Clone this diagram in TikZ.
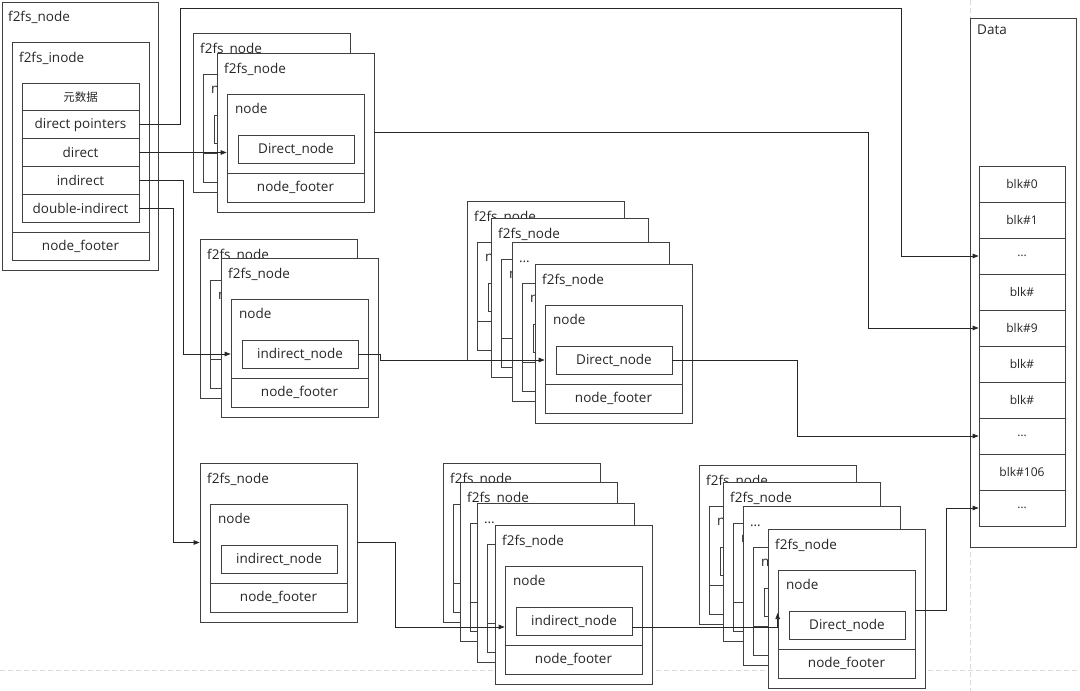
\documentclass[tikz,border=0pt]{standalone}
\usepackage{fontspec}
\setmainfont{Open Sans}
\newfontfamily\cjk{Noto Sans CJK SC}
\usepackage{tikz}
\usetikzlibrary{arrows.meta}

% one f2fs_node card: name, x, y (top left), title, pointer text
\newcommand{\fcard}[5]{%
  \begin{scope}[shift={(#2,#3)}]
    \node[cardbox] (#1) at (78.5,79.5) {};
    \node[lbl, anchor=base west] at (7,20) {#4};
    \node[nodebox] (#1-n) at (78.5,95) {};
    \draw[box] (10,120) -- (147,120);
    \node[lbl, anchor=base west] at (18,60) {node};
    \node[ptrbox] (#1-p) at (79,96) {#5};
    \node[lbl] at (78.5,134.5) {node\_footer};
  \end{scope}%
}

\begin{document}
\begin{tikzpicture}[x=1pt, y=-1pt,
  box/.style={draw=black!75, line width=0.7pt},
  lbl/.style={inner sep=0pt, text=black!85, font=\fontsize{13.5}{16}\selectfont},
  cardbox/.style={box, fill=white, minimum width=157pt, minimum height=159pt, inner sep=0pt},
  nodebox/.style={box, minimum width=137pt, minimum height=108pt, inner sep=0pt},
  ptrbox/.style={box, lbl, minimum width=116pt, minimum height=28pt},
  row/.style={box, lbl, minimum width=117pt, minimum height=27.8pt},
  blk/.style={box, inner sep=0pt, text=black!85, font=\fontsize{12}{14}\selectfont,
    minimum width=86pt, minimum height=36pt},
  link/.style={draw=black!85, line width=0.7pt, -{Triangle[length=6pt,width=4.5pt]}},
  guide/.style={draw=gray!30, line width=0.5pt, dash pattern=on 5pt off 3pt}]
\useasboundingbox (0,0) rectangle (1080,691);

% page guides
\draw[guide] (970,0) -- (970,691);
\draw[guide] (0,670) -- (1080,670);

% inode
\node[box, minimum width=156pt, minimum height=268pt] (root) at (80,136) {};
\node[lbl, anchor=base west] at (8,21) {f2fs\_node};
\node[box, minimum width=137pt, minimum height=218pt] (inode) at (80.5,151) {};
\node[lbl, anchor=base west] at (19,62) {f2fs\_inode};
\draw[box] (12,232) -- (149,232);
\node[lbl] at (80.5,246) {node\_footer};
\foreach \i/\t in {1/{\cjk\fontsize{11.5}{13}\selectfont 元数据}, 2/direct pointers,
                   3/direct, 4/indirect, 5/double-indirect}
  \node[row] (r\i) at (80.5,{83+27.8*(\i-0.5)}) {\t};

% direct nodes
\fcard{tA}{193}{33}{f2fs\_node}{Direct\_node}
\fcard{tB}{217}{53}{f2fs\_node}{Direct\_node}

% indirect nodes
\fcard{mA}{200}{239}{f2fs\_node}{indirect\_node}
\fcard{mB}{221}{258}{f2fs\_node}{indirect\_node}
\fcard{mC1}{467}{201}{f2fs\_node}{Direct\_node}
\fcard{mC2}{491}{218}{f2fs\_node}{Direct\_node}
\fcard{mC3}{512}{242}{\ldots}{Direct\_node}
\fcard{mD}{535}{264}{f2fs\_node}{Direct\_node}

% double indirect nodes
\fcard{bA}{200}{463}{f2fs\_node}{indirect\_node}
\fcard{bB1}{443}{463}{f2fs\_node}{indirect\_node}
\fcard{bB2}{460}{482}{f2fs\_node}{indirect\_node}
\fcard{bB3}{477}{503}{\ldots}{indirect\_node}
\fcard{bC}{495}{525}{f2fs\_node}{indirect\_node}
\fcard{bD1}{699}{465}{f2fs\_node}{Direct\_node}
\fcard{bD2}{723}{482}{f2fs\_node}{Direct\_node}
\fcard{bD3}{743}{506}{\ldots}{Direct\_node}
\fcard{bF}{768}{529}{f2fs\_node}{Direct\_node}

% data blocks
\node[box, fill=white, minimum width=106pt, minimum height=529pt] (data) at (1023,282.5) {};
\node[lbl, anchor=base west] at (977,34) {Data};
\foreach \i/\t in {1/blk\#0, 2/blk\#1, 3/\ldots, 4/blk\#, 5/blk\#9, 6/blk\#, 7/blk\#,
                   8/\ldots, 9/blk\#106, 10/\ldots}
  \node[blk] (b\i) at (1022,{166+36*(\i-0.5)}) {\t};

% pointers
\draw[link] (r2.east) -| (180,8) -| (901,0 |- b3) -- (b3.west);
\draw[link] (r3.east) -- (r3.east -| tB-n.west);
\draw[link] (r4.east) -| (183,0 |- mB-p) -- (mB-n.west |- mB-p);
\draw[link] (r5.east) -| (173,0 |- bA) -- (bA.west);
\draw[link] (tB.east) -| (868,0 |- b5) -- (b5.west);
\draw[link] (mB-p.east) -| (380,0 |- mD-p) -- (mD-n.west |- mD-p);
\draw[link] (mD-p.east) -| (797,0 |- b8) -- (b8.west);
\draw[link] (bA.east) -| (395,627) -- (bC-n.west |- 0,627);
\draw[link] (bC-p.east |- 0,627) -| (bF-n.west |- 0,613);
\draw[link] (bF-n.east |- 0,610) -| (946,0 |- b10) -- (b10.west);
\end{tikzpicture}
\end{document}
